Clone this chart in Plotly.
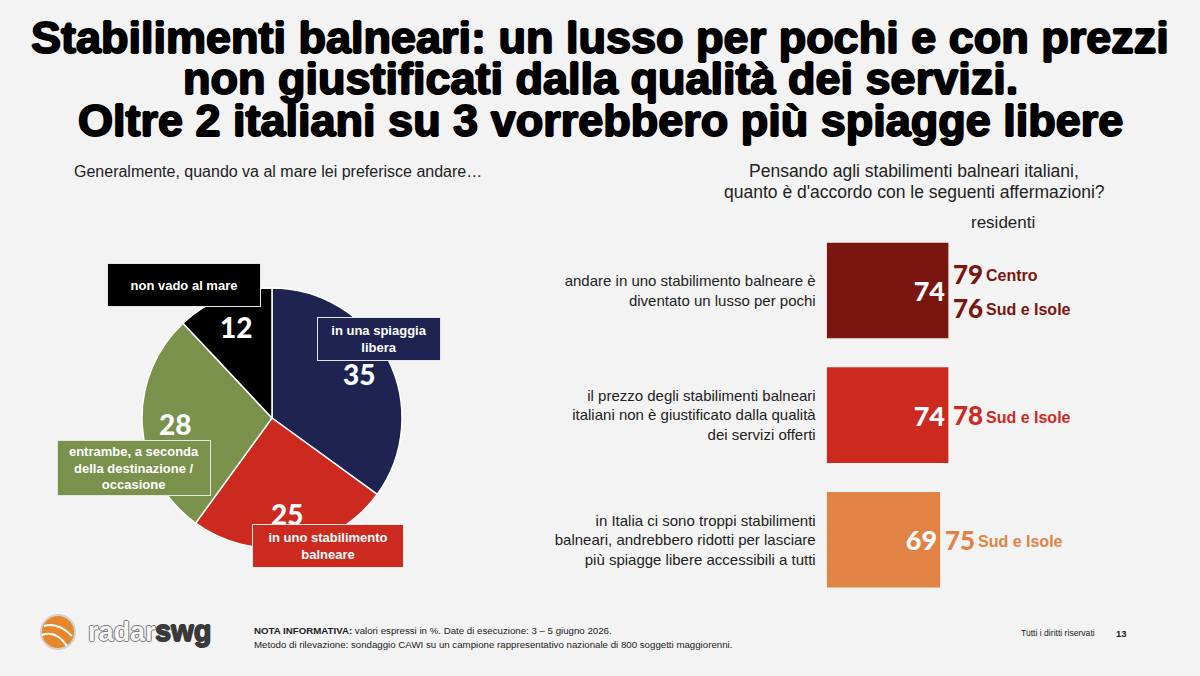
import math
import plotly.graph_objects as go

W, H = 1200, 676
BG = "#f3f3f3"

# ---------------- data ----------------
pie_labels = ["in una spiaggia<br>libera", "in uno stabilimento<br>balneare",
              "entrambe, a seconda<br>della destinazione /<br>occasione", "non vado al mare"]
pie_values = [35, 25, 28, 12]
pie_colors = ["#1e2352", "#cc2a1f", "#7a914c", "#000000"]

bar_labels = ["andare in uno stabilimento balneare è<br>diventato un lusso per pochi",
              "il prezzo degli stabilimenti balneari<br>italiani non è giustificato dalla qualità<br>dei servizi offerti",
              "in Italia ci sono troppi stabilimenti<br>balneari, andrebbero ridotti per lasciare<br>più spiagge libere accessibili a tutti"]
bar_values = [74, 74, 69]
bar_colors = ["#7b150f", "#cc2a1f", "#e08344"]
resid_values = [[79, 76], [78], [75]]
resid_areas = [["Centro", "Sud e Isole"], ["Sud e Isole"], ["Sud e Isole"]]

title_lines = ["Stabilimenti balneari: un lusso per pochi e con prezzi",
               "non giustificati dalla qualità dei servizi.",
               "Oltre 2 italiani su 3 vorrebbero più spiagge libere"]

FONT = "Liberation Sans, Arial, sans-serif"
HEAVY = "Lato, Liberation Sans, Arial, sans-serif"

def px(x):
    return x / W

def py(y):
    return 1 - y / H

def stroke(c, w=1):
    return f"{w}px 0 0 {c}, -{w}px 0 0 {c}, 0 {w}px 0 {c}, 0 -{w}px 0 {c}"

def ann(x, y, text, size, color, family=FONT, xa="center", ya="middle", shadow=None, weight=None, **kw):
    f = dict(family=family, size=size, color=color)
    if shadow:
        f["shadow"] = shadow
    if weight:
        f["weight"] = weight
    d = dict(x=px(x), y=py(y), xref="paper", yref="paper", xanchor=xa, yanchor=ya,
             text=text, showarrow=False, font=f)
    d.update(kw)
    return d

fig = go.Figure()

# ---------------- pie ----------------
cx, cy, R = 272, 418, 130
fig.add_trace(go.Pie(
    values=pie_values, labels=pie_labels, marker=dict(colors=pie_colors, line=dict(color="white", width=1.5)),
    sort=False, direction="clockwise", rotation=0, textinfo="none", hoverinfo="skip",
    domain=dict(x=[px(cx - R), px(cx + R)], y=[py(cy + R), py(cy - R)]), showlegend=False))

annotations = []
total = sum(pie_values)
cum = 0
for v in pie_values:
    mid = (cum + v / 2) / total * 2 * math.pi
    cum += v
    lx = cx + 0.75 * R * math.sin(mid)
    ly = cy - 0.75 * R * math.cos(mid)
    annotations.append(ann(lx, ly, f"{v}", 28, "white", family=HEAVY, weight=900))

# pie label boxes (center x, center y, width, height)
boxes = [(379, 339, 118, 38), (328, 546, 146, 38), (134, 468, 148, 50), (184, 285, 148, 38)]
for lab, col, (bx, by, bw, bh) in zip(pie_labels, pie_colors, boxes):
    annotations.append(ann(bx, by, f"<b>{lab}</b>", 13, "white", bgcolor=col, bordercolor="#e6e6e6",
                           borderwidth=1, borderpad=2, width=bw, height=bh))

# ---------------- bars ----------------
fig.add_trace(go.Bar(
    y=bar_labels, x=bar_values, orientation="h", marker=dict(color=bar_colors, line=dict(width=0)),
    text=[f"{v}" for v in bar_values], textposition="inside", insidetextanchor="end",
    textfont=dict(family=HEAVY, size=27, color="white", weight=900),
    hoverinfo="skip", showlegend=False, cliponaxis=False))

x0p, x1p = 826.7, 826.7 + 164.4
fig.update_xaxes(domain=[px(x0p), px(x1p)], range=[0, 100], visible=False)
fig.update_yaxes(domain=[py(602.1), py(228.2)], autorange="reversed", showgrid=False,
                 zeroline=False, showline=False, ticks="", ticklabelstandoff=10,
                 tickfont=dict(family=FONT, size=15, color="#222222"))
fig.update_layout(bargap=0.233)

for lab, vals, areas, col, bv in zip(bar_labels, resid_values, resid_areas, bar_colors, bar_values):
    n = len(vals)
    shifts = [17, -17] if n == 2 else [0]
    for v, a, s in zip(vals, areas, shifts):
        annotations.append(dict(x=bv, y=lab, xref="x", yref="y", xanchor="left", yanchor="middle",
                                xshift=3, yshift=s, text=f"{v}", showarrow=False,
                                font=dict(family=HEAVY, size=26, color=col, weight=900)))
        annotations.append(dict(x=bv, y=lab, xref="x", yref="y", xanchor="left", yanchor="middle",
                                xshift=36, yshift=s - 2, text=f"<b>{a}</b>", showarrow=False,
                                font=dict(family=FONT, size=16, color=col)))

annotations.append(ann(1003, 222, "residenti", 17, "#222222"))

# ---------------- titles ----------------
for i, t in enumerate(title_lines):
    annotations.append(ann(600, 37 + 42 * i, f"<b>{t}</b>", 45, "black", shadow=stroke("black", 1)))

annotations.append(ann(72, 171, "Generalmente, quando va al mare lei preferisce andare…", 16, "#222222", xa="left"))
annotations.append(ann(914, 171, "Pensando agli stabilimenti balneari italiani,", 17.5, "#222222"))
annotations.append(ann(914, 192, "quanto è d'accordo con le seguenti affermazioni?", 17.5, "#222222"))

# ---------------- footer ----------------
annotations.append(ann(252, 630.5, "<b>NOTA INFORMATIVA:</b> valori espressi in %. Date di esecuzione: 3 – 5 giugno 2026.",
                       9.7, "#222222", xa="left"))
annotations.append(ann(252, 644.5, "Metodo di rilevazione: sondaggio CAWI su un campione rappresentativo nazionale di 800 soggetti maggiorenni.",
                       9.7, "#222222", xa="left"))
annotations.append(ann(1097, 633, "Tutti i diritti riservati", 8.6, "#222222", xa="right"))
annotations.append(ann(1114, 633, "<b>13</b>", 9.5, "#222222", xa="left"))
annotations.append(ann(86, 632, "<b>radar</b>", 27, "#f6f6f6", xa="left", shadow=stroke("#7a7a7a", 1)))
annotations.append(ann(153, 631, "<b>swg</b>", 29, "#3a3a3a", xa="left", shadow=stroke("#3a3a3a", 0.8)))

shapes = [
    dict(type="circle", xref="paper", yref="paper", x0=px(41), x1=px(75), y0=py(649), y1=py(615),
         fillcolor="#e8862c", line=dict(color="#d0d0d0", width=2)),
    dict(type="path", xref="paper", yref="paper",
         path=f"M {px(44)} {py(626)} Q {px(58)} {py(622)} {px(72)} {py(636)}", line=dict(color="white", width=2)),
    dict(type="path", xref="paper", yref="paper",
         path=f"M {px(42)} {py(635)} Q {px(56)} {py(630)} {px(67)} {py(646)}", line=dict(color="white", width=2)),
]

fig.update_layout(width=W, height=H, margin=dict(l=0, r=0, t=0, b=0), paper_bgcolor=BG, plot_bgcolor=BG,
                  annotations=annotations, shapes=shapes, font=dict(family=FONT))

fig.write_html("out.html")
